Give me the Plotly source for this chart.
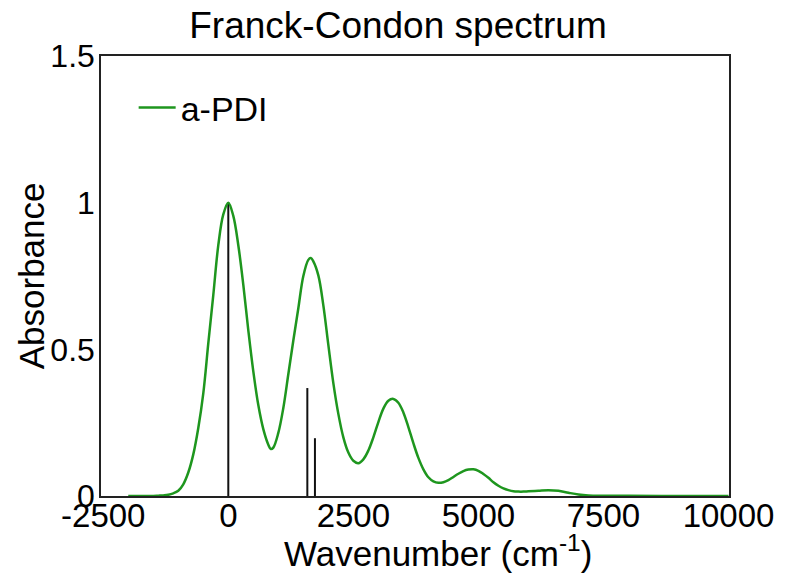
import plotly.graph_objects as go

# Spectrum curve (wavenumber in cm^-1, absorbance)
wavenumber = [-2000, -1500, -1400, -1300, -1200, -1100, -1000, -900, -800, -700, -600, -500,
              -400, -300, -200, -100, 0, 100, 200, 300, 400, 500, 600, 700, 800, 850, 900,
              1000, 1100, 1200, 1300, 1400, 1500, 1600, 1650, 1700, 1800, 1900, 2000, 2100,
              2200, 2300, 2400, 2500, 2600, 2700, 2800, 2900, 3000, 3100, 3200, 3300, 3400,
              3500, 3600, 3700, 3800, 3900, 4000, 4100, 4200, 4300, 4400, 4500, 4600, 4700,
              4800, 4900, 5000, 5100, 5200, 5300, 5400, 5500, 5600, 5700, 5800, 5900, 6000,
              6200, 6400, 6600, 6800, 7000, 7200, 7500, 8000, 9000, 10000]
absorbance = [0.0, 0.0, 0.001, 0.002, 0.004, 0.009, 0.018, 0.040, 0.080, 0.142, 0.232, 0.350,
              0.520, 0.685, 0.855, 0.960, 1.000, 0.955, 0.855, 0.720, 0.565, 0.425, 0.310,
              0.228, 0.175, 0.160, 0.165, 0.215, 0.300, 0.415, 0.530, 0.640, 0.750, 0.805,
              0.811, 0.800, 0.752, 0.650, 0.515, 0.385, 0.280, 0.200, 0.148, 0.120, 0.112,
              0.125, 0.155, 0.200, 0.252, 0.298, 0.325, 0.331, 0.318, 0.285, 0.235, 0.180,
              0.130, 0.091, 0.064, 0.050, 0.045, 0.047, 0.054, 0.065, 0.076, 0.085, 0.090,
              0.091, 0.086, 0.075, 0.062, 0.047, 0.035, 0.026, 0.020, 0.016, 0.015, 0.015,
              0.016, 0.018, 0.020, 0.018, 0.011, 0.005, 0.002, 0.001, 0.0005, 0.0, 0.0]

# Stick transitions
stick_pos = [0, 1580, 1732]
stick_height = [1.0, 0.368, 0.197]

x_tick_vals = [-2500, 0, 2500, 5000, 7500, 10000]
x_tick_text = ["-2500", "0", "2500", "5000", "7500", "10000"]
y_tick_vals = [0, 0.5, 1, 1.5]
y_tick_text = ["0", "0.5", "1", "1.5"]

series_name = "a-PDI"
FONT = "Liberation Sans, Arial, Helvetica, sans-serif"

sx, sy = [], []
for p, h in zip(stick_pos, stick_height):
    sx += [p, p, None]
    sy += [0, h, None]

fig = go.Figure()
fig.add_trace(go.Scatter(x=sx, y=sy, mode="lines", line=dict(color="#111111", width=2),
                         showlegend=False, hoverinfo="skip"))
fig.add_trace(go.Scatter(x=wavenumber, y=absorbance, mode="lines", name=series_name,
                         line=dict(color="#1e961e", width=2.5, shape="spline", smoothing=1)))

fig.update_layout(
    width=785, height=573,
    margin=dict(l=101, r=56, t=56, b=77),
    paper_bgcolor="white", plot_bgcolor="white",
    font=dict(family=FONT, color="black"),
    title=dict(text="Franck-Condon spectrum", x=0.507, xanchor="center",
               y=1 - 25 / 573, yref="container", yanchor="middle",
               font=dict(size=37, family=FONT, color="black")),
    legend=dict(x=0.052, xanchor="left", y=0.948, yanchor="top", itemwidth=37,
                bgcolor="rgba(0,0,0,0)", font=dict(size=34, family=FONT)),
    xaxis=dict(range=[-2545, 10010], tickvals=x_tick_vals, ticktext=x_tick_text,
               showgrid=False, zeroline=False, showline=True, mirror=True,
               linecolor="#222222", linewidth=1.5, ticks="", ticklabelstandoff=-10,
               tickfont=dict(size=33, family=FONT)),
    yaxis=dict(range=[0, 1.5], tickvals=y_tick_vals, ticktext=y_tick_text,
               showgrid=False, zeroline=False, showline=True, mirror=True,
               linecolor="#222222", linewidth=1.5, ticks="", ticklabelstandoff=-2,
               tickfont=dict(size=32, family=FONT)),
    annotations=[
        dict(text="Wavenumber (cm<sup>-1</sup>)", xref="paper", yref="paper",
             x=0.537, y=-0.125, xanchor="center", yanchor="middle", showarrow=False,
             font=dict(size=35, family=FONT)),
        dict(text="Absorbance", xref="paper", yref="paper", x=-0.111, y=0.5,
             xanchor="center", yanchor="middle", textangle=-90, showarrow=False,
             font=dict(size=35, family=FONT)),
    ],
)

fig.write_html("out.html")
